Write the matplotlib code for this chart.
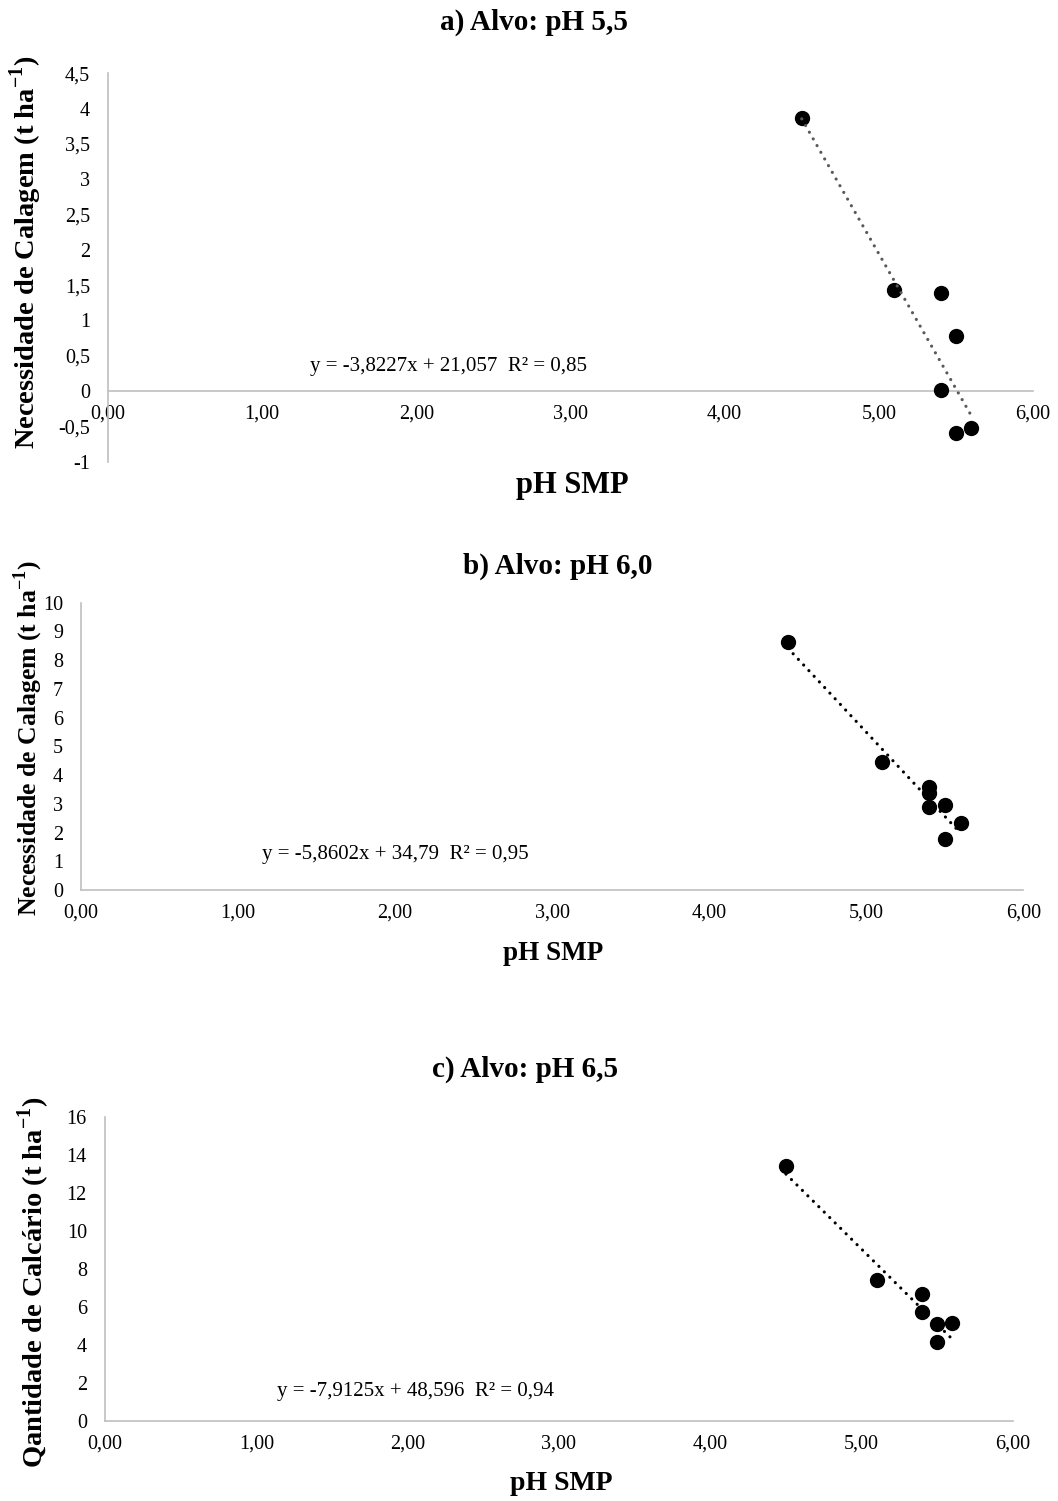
import matplotlib
matplotlib.use('Agg')
import matplotlib.pyplot as plt
from matplotlib.ticker import FuncFormatter, MultipleLocator
import numpy as np

plt.rcParams['font.family'] = ['Liberation Serif', 'DejaVu Serif']
plt.rcParams['mathtext.fontset'] = 'custom'
plt.rcParams['mathtext.rm'] = 'Liberation Serif'
plt.rcParams['mathtext.bf'] = 'Liberation Serif:bold'

# ---------------- data ----------------
ph_a = [4.5, 5.1, 5.4, 5.4, 5.5, 5.5, 5.6]
nc_a = [3.87, 1.43, 1.39, 0.02, 0.78, -0.60, -0.53]

ph_b = [4.5, 5.1, 5.4, 5.4, 5.4, 5.5, 5.5, 5.6]
nc_b = [8.64, 4.44, 3.60, 3.39, 2.90, 2.96, 1.78, 2.32]

ph_c = [4.5, 5.1, 5.4, 5.4, 5.5, 5.5, 5.6]
nc_c = [13.41, 7.43, 6.69, 5.74, 5.10, 4.14, 5.17]

slopes = [-3.8227, -5.8602, -7.9125]
intercepts = [21.057, 34.79, 48.596]
equations = ["y = -3,8227x + 21,057  R² = 0,85",
             "y = -5,8602x + 34,79  R² = 0,95",
             "y = -7,9125x + 48,596  R² = 0,94"]
titles = ["a) Alvo: pH 5,5", "b) Alvo: pH 6,0", "c) Alvo: pH 6,5"]
ylabels = [r"Necessidade de Calagem (t ha$^{\mathbf{-1}}$)",
           r"Necessidade de Calagem (t ha$^{\mathbf{-1}}$)",
           r"Qantidade de Calcário (t ha$^{\mathbf{-1}}$)"]
xlabel = "pH SMP"

W, H = 1058, 1501
fig = plt.figure(figsize=(W / 100, H / 100), dpi=100)


def px_axes(l, t, r, b):
    return fig.add_axes([l / W, 1 - b / H, (r - l) / W, (b - t) / H])


def ytick_fmt(v, pos):
    return f"{v:g}".replace('.', ',')


def xtick_fmt(v, pos):
    return f"{v:.2f}".replace('.', ',')


GRAY = '#BFBFBF'

panels = [
    dict(rect=(108, 73.3, 1033, 461.6), ylim=(-1, 4.5), ystep=0.5, x=ph_a, y=nc_a,
         lc='#595959', eq_xy=(2.21, 0.35), title_xy=(534, 22), xl_xy=(572, 486),
         yl_xy=(26, 252), yl_fs=20.5, xl_fs=22, spine0=True),
    dict(rect=(81, 602.7, 1023.5, 890), ylim=(0, 10), ystep=1, x=ph_b, y=nc_b,
         lc='black', eq_xy=(2.0, 1.22), title_xy=(558, 566), xl_xy=(553, 954),
         yl_xy=(28, 738), yl_fs=18.5, xl_fs=19.5, spine0=False),
    dict(rect=(105, 1117, 1013, 1420.7), ylim=(0, 16), ystep=2, x=ph_c, y=nc_c,
         lc='black', eq_xy=(2.05, 1.56), title_xy=(525, 1069), xl_xy=(561, 1484),
         yl_xy=(34, 1282), yl_fs=20.5, xl_fs=20, spine0=False),
]

for i, p in enumerate(panels):
    ax = px_axes(*p['rect'])
    ax.set_xlim(0, 6)
    ax.set_ylim(*p['ylim'])
    ax.xaxis.set_major_locator(MultipleLocator(1))
    ax.yaxis.set_major_locator(MultipleLocator(p['ystep']))
    ax.xaxis.set_major_formatter(FuncFormatter(xtick_fmt))
    ax.yaxis.set_major_formatter(FuncFormatter(ytick_fmt))
    for s in ['top', 'right']:
        ax.spines[s].set_visible(False)
    for s in ['left', 'bottom']:
        ax.spines[s].set_color(GRAY)
        ax.spines[s].set_linewidth(1.2)
    if p['spine0']:
        ax.spines['bottom'].set_position(('data', 0))
    ax.tick_params(axis='both', length=0, labelsize=14.5, colors='black')
    ax.tick_params(axis='y', pad=13)
    ax.tick_params(axis='x', pad=10)
    ax.patch.set_visible(False)

    ax.scatter(p['x'], p['y'], s=100, color='black', zorder=3, clip_on=False)
    xr = np.array([min(p['x']), max(p['x'])])
    yr = slopes[i] * xr + intercepts[i]
    ax.plot(xr, yr, color=p['lc'], lw=2.3, linestyle=(0, (0.01, 2.4)),
            dash_capstyle='round', zorder=4, clip_on=False)
    ax.text(*p['eq_xy'], equations[i], ha='center', va='center', fontsize=15)

    tx, ty = p['title_xy']
    fig.text(tx / W, 1 - ty / H, titles[i], ha='center', va='center',
             fontsize=21, fontweight='bold')
    xx, xy = p['xl_xy']
    fig.text(xx / W, 1 - xy / H, xlabel, ha='center', va='center',
             fontsize=p['xl_fs'], fontweight='bold')
    yx, yy = p['yl_xy']
    fig.text(yx / W, 1 - yy / H, ylabels[i], ha='center', va='center',
             rotation=90, fontsize=p['yl_fs'], fontweight='bold')

fig.savefig('out.png', dpi=100)
